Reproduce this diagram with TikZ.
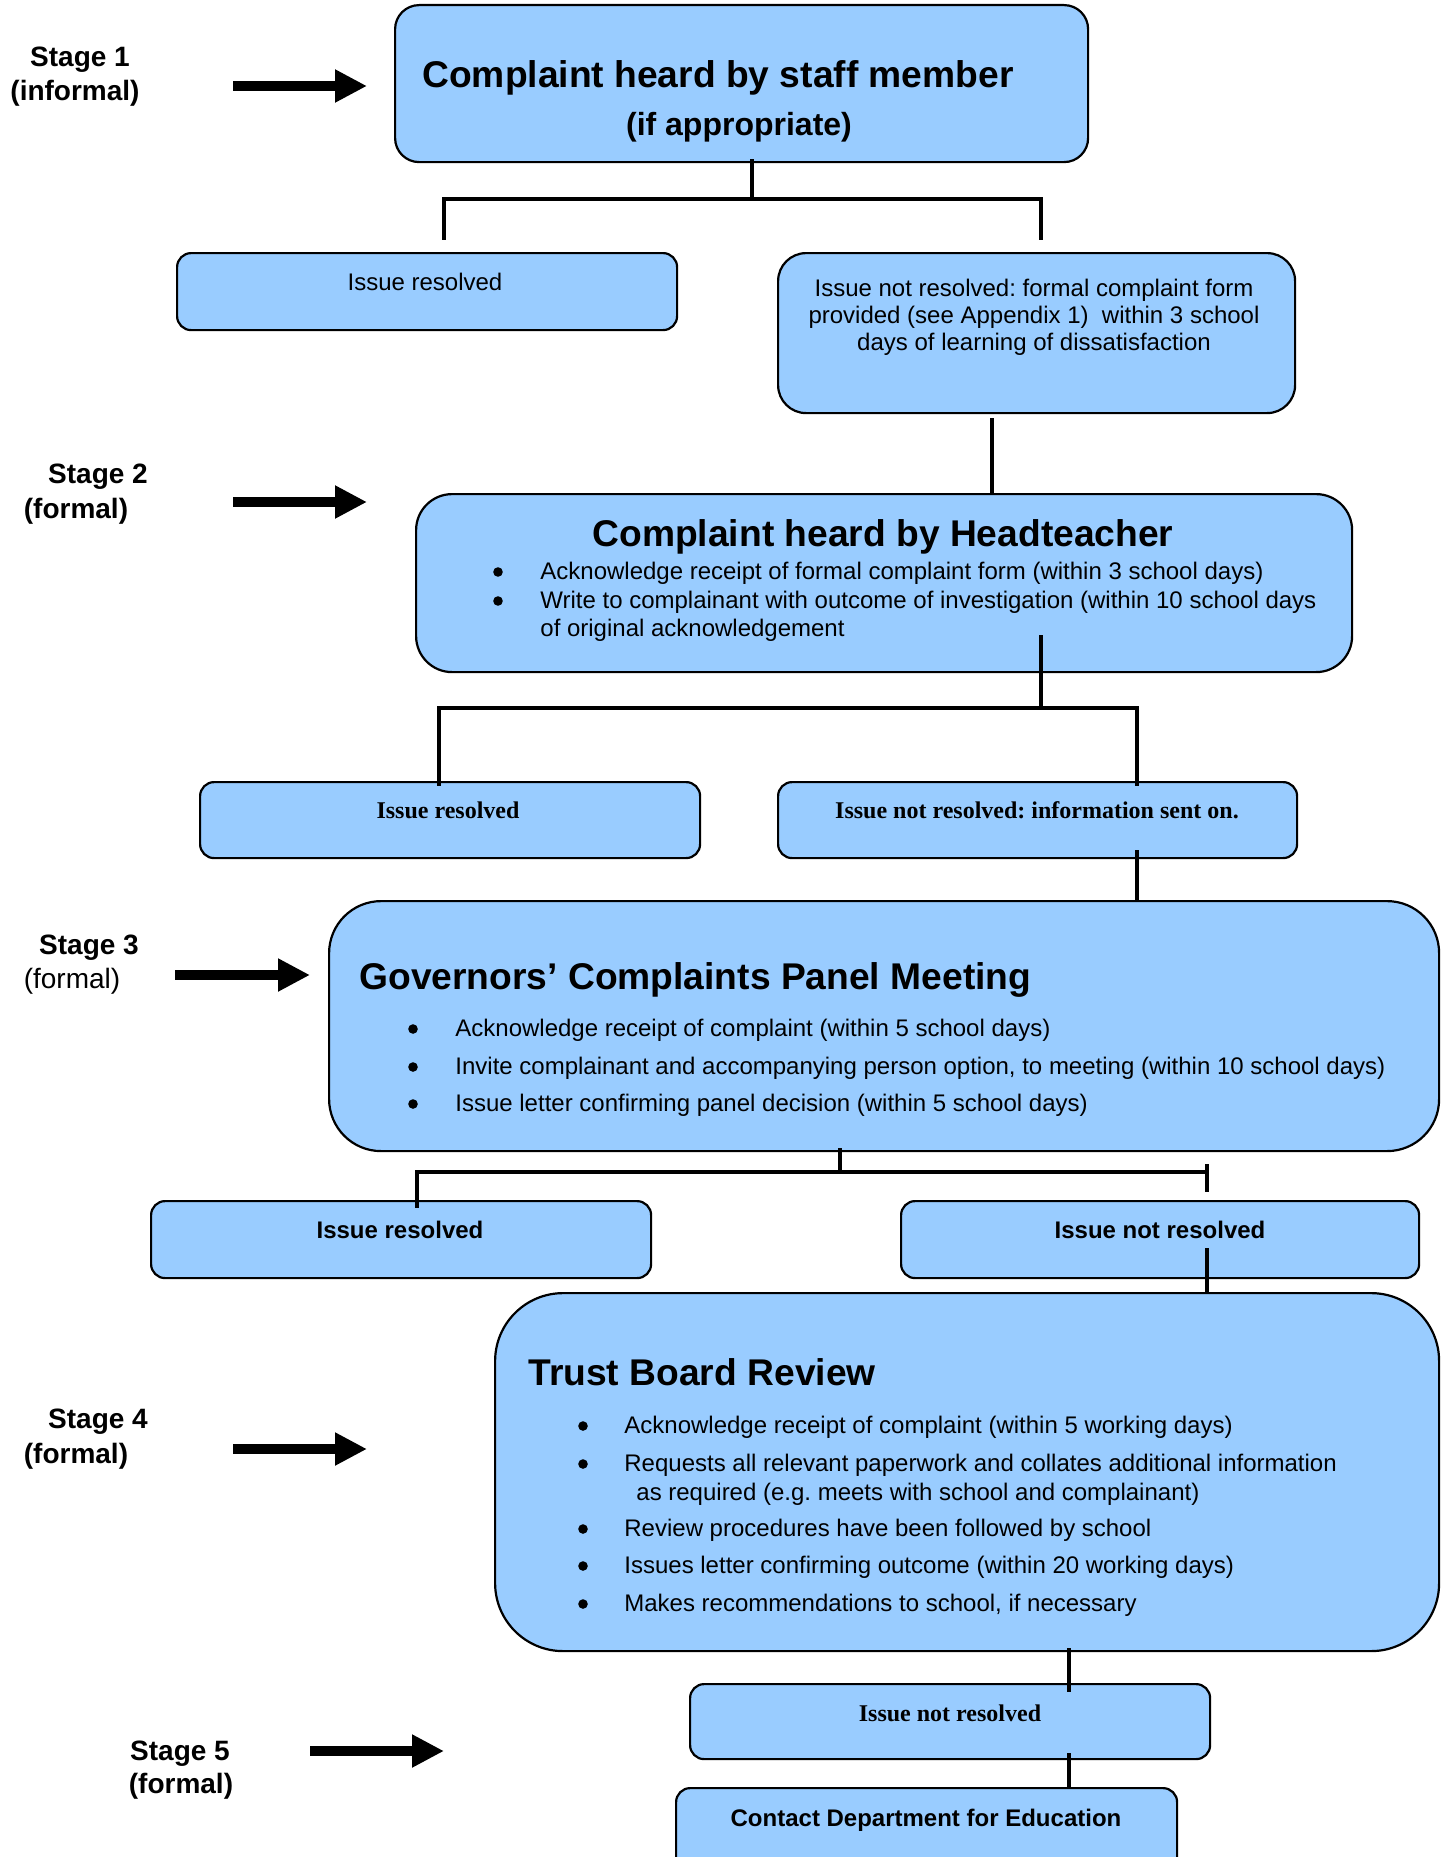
\documentclass[tikz,border=0pt]{standalone}
\usepackage{fontspec}
\setmainfont{Liberation Sans}
\newfontfamily\serifface{Liberation Serif}
\usetikzlibrary{arrows.meta}
\definecolor{boxblue}{RGB}{153,204,255}
\frenchspacing
\begin{document}
\begin{tikzpicture}[x=0.5pt,y=-0.5pt,
  box/.style={draw=black,line width=1.1pt,fill=boxblue,inner sep=0pt,anchor=north west},
  vline/.style={line width=1.6pt,line cap=rect},
  hbar/.style={line width=2.4pt},
  stagearrow/.style={line width=5pt,-{Triangle[length=16pt,width=15.5pt]}},
  ttl/.style={font=\fontsize{18.6}{22}\selectfont\bfseries,inner sep=0pt},
  sub/.style={font=\fontsize{16}{19}\selectfont\bfseries,inner sep=0pt},
  txt/.style={font=\fontsize{12}{14}\selectfont,inner sep=0pt},
  txtb/.style={font=\fontsize{12}{14}\selectfont\bfseries,inner sep=0pt},
  txts/.style={font=\fontsize{12}{14}\selectfont\serifface\bfseries,inner sep=0pt},
  stg/.style={font=\fontsize{14}{17}\selectfont\bfseries,inner sep=0pt,anchor=base},
  stgn/.style={font=\fontsize{14}{17}\selectfont,inner sep=0pt,anchor=base},
  bul/.style={circle,fill=black,inner sep=0pt,minimum size=4.8pt}
]
\useasboundingbox (0,0) rectangle (1444,1857);
\clip (0,0) rectangle (1444,1857);

% ---------- boxes ----------
\node[box,rounded corners=12pt,minimum width=346.5pt,minimum height=78.5pt] (b1) at (394,4) {};
\node[box,rounded corners=7pt,minimum width=250pt,minimum height=38.5pt] (r1) at (176,252) {};
\node[box,rounded corners=14pt,minimum width=258.5pt,minimum height=80pt] (n1) at (777,252) {};
\node[box,rounded corners=18pt,minimum width=468pt,minimum height=89pt] (b2) at (415,493) {};
\node[box,rounded corners=7pt,minimum width=250pt,minimum height=38pt] (r2) at (199,781) {};
\node[box,rounded corners=7pt,minimum width=259.5pt,minimum height=38pt] (n2) at (777,781) {};
\node[box,rounded corners=26pt,minimum width=555pt,minimum height=125pt] (b3) at (328,900) {};
\node[box,rounded corners=7pt,minimum width=250pt,minimum height=38.5pt] (r3) at (150,1200) {};
\node[box,rounded corners=7pt,minimum width=259pt,minimum height=38.5pt] (n3) at (900,1200) {};
\node[box,rounded corners=34pt,minimum width=472pt,minimum height=179pt] (b4) at (494,1292) {};
\node[box,rounded corners=7pt,minimum width=260pt,minimum height=37.5pt] (n4) at (689,1683) {};
\node[box,rounded corners=7pt,minimum width=250.5pt,minimum height=46.5pt] (b5) at (675,1787) {};

% ---------- connector points ----------
\coordinate (k1a) at (752,161);  \coordinate (k1b) at (752,199);
\coordinate (k1l) at (444,199);  \coordinate (k1r) at (1041,199);
\coordinate (k1ld) at (444,238); \coordinate (k1rd) at (1041,238);
\coordinate (k2a) at (992,420);  \coordinate (k2b) at (992,493);
\coordinate (k3a) at (1041,637); \coordinate (k3b) at (1041,708);
\coordinate (k3l) at (439,708);  \coordinate (k3r) at (1137,708);
\coordinate (k3ld) at (439,784); \coordinate (k3rd) at (1137,784);
\coordinate (k4a) at (1137,852); \coordinate (k4b) at (1137,900);
\coordinate (k5a) at (840,1150); \coordinate (k5b) at (840,1172);
\coordinate (k5l) at (417,1172); \coordinate (k5r) at (1207,1172);
\coordinate (k5ld) at (417,1206);
\coordinate (k5t1) at (1207,1166); \coordinate (k5t2) at (1207,1190);
\coordinate (k6a) at (1207,1250); \coordinate (k6b) at (1207,1292);
\coordinate (k7a) at (1069,1650); \coordinate (k7b) at (1069,1690);
\coordinate (k8a) at (1069,1755); \coordinate (k8b) at (1069,1787);

\draw[vline] (k1a) -- (k1b);
\draw[hbar] (k1l) -- (k1r);
\draw[vline] (k1l) -- (k1ld);
\draw[vline] (k1r) -- (k1rd);
\draw[vline] (k2a) -- (k2b);
\draw[vline] (k3a) -- (k3b);
\draw[hbar] (k3l) -- (k3r);
\draw[vline] (k3l) -- (k3ld);
\draw[vline] (k3r) -- (k3rd);
\draw[vline] (k4a) -- (k4b);
\draw[vline] (k5a) -- (k5b);
\draw[hbar] (k5l) -- (k5r);
\draw[vline] (k5l) -- (k5ld);
\draw[vline] (k5t1) -- (k5t2);
\draw[vline] (k6a) -- (k6b);
\draw[vline] (k7a) -- (k7b);
\draw[vline] (k8a) -- (k8b);

% ---------- stage arrows ----------
\coordinate (a1s) at (233,86);   \coordinate (a1e) at (367,86);
\coordinate (a2s) at (233,502);  \coordinate (a2e) at (367,502);
\coordinate (a3s) at (175,975);  \coordinate (a3e) at (310,975);
\coordinate (a4s) at (233,1449); \coordinate (a4e) at (367,1449);
\coordinate (a5s) at (310,1751); \coordinate (a5e) at (444,1751);
\draw[stagearrow] (a1s) -- (a1e);
\draw[stagearrow] (a2s) -- (a2e);
\draw[stagearrow] (a3s) -- (a3e);
\draw[stagearrow] (a4s) -- (a4e);
\draw[stagearrow] (a5s) -- (a5e);

% ---------- stage labels ----------
\node[stg] (s1) at (80,67) {Stage 1};
\node[stg] (s1b) at (75,101) {(informal)};
\node[stg] (s2) at (98,483) {Stage 2};
\node[stg] (s2b) at (76,518) {(formal)};
\node[stg] (s3) at (89,954) {Stage 3};
\node[stgn] (s3b) at (72,988) {(formal)};
\node[stg] (s4) at (98,1428) {Stage 4};
\node[stg] (s4b) at (76,1463) {(formal)};
\node[stg] (s5) at (180,1760) {Stage 5};
\node[stg] (s5b) at (181,1793) {(formal)};

% ---------- texts ----------
\node[ttl,anchor=base west] (t1a) at (422,88) {Complaint heard by staff member};
\node[sub,anchor=base] (t1b) at (739,135) {(if appropriate)};

\node[txt,anchor=base] (tr1) at (425,290) {Issue resolved};
\node[txt,anchor=base] (tn1a) at (1034,296) {Issue not resolved: formal complaint form};
\node[txt,anchor=base] (tn1b) at (1034,323) {provided (see Appendix 1)\ \ within 3 school};
\node[txt,anchor=base] (tn1c) at (1034,350) {days of learning of dissatisfaction};

\node[ttl,anchor=base] (t2) at (883,546) {Complaint heard by Headteacher};
\node[bul] (t2p1) at (498,572) {};
\node[bul] (t2p2) at (498,601) {};
\node[txt,anchor=base west] (t2l1) at (540,579) {Acknowledge receipt of formal complaint form (within 3 school days)};
\node[txt,anchor=base west] (t2l2) at (540,608) {Write to complainant with outcome of investigation (within 10 school days};
\node[txt,anchor=base west] (t2l3) at (540,636) {of original acknowledgement};

\node[txts,anchor=base] (tr2) at (448,818) {Issue resolved};
\node[txts,anchor=base] (tn2) at (1037,818) {Issue not resolved: information sent on.};

\node[ttl,anchor=base west] (t3) at (359,989) {Governors’ Complaints Panel Meeting};
\node[bul] (t3p1) at (413,1029) {};
\node[bul] (t3p2) at (413,1067) {};
\node[bul] (t3p3) at (413,1104) {};
\node[txt,anchor=base west] (t3l1) at (455,1036) {Acknowledge receipt of complaint (within 5 school days)};
\node[txt,anchor=base west] (t3l2) at (455,1074) {Invite complainant and accompanying person option, to meeting (within 10 school days)};
\node[txt,anchor=base west] (t3l3) at (455,1111) {Issue letter confirming panel decision (within 5 school days)};

\node[txtb,anchor=base] (tr3) at (400,1238) {Issue resolved};
\node[txtb,anchor=base] (tn3) at (1160,1238) {Issue not resolved};

\node[ttl,anchor=base west] (t4) at (528,1385) {Trust Board Review};
\node[bul] (t4p1) at (583,1426) {};
\node[bul] (t4p2) at (583,1464) {};
\node[bul] (t4p3) at (583,1529) {};
\node[bul] (t4p4) at (583,1566) {};
\node[bul] (t4p5) at (583,1604) {};
\node[txt,anchor=base west] (t4l1) at (624,1433) {Acknowledge receipt of complaint (within 5 working days)};
\node[txt,anchor=base west] (t4l2) at (624,1471) {Requests all relevant paperwork and collates additional information};
\node[txt,anchor=base west] (t4l2b) at (636,1500) {as required (e.g. meets with school and complainant)};
\node[txt,anchor=base west] (t4l3) at (624,1536) {Review procedures have been followed by school};
\node[txt,anchor=base west] (t4l4) at (624,1573) {Issues letter confirming outcome (within 20 working days)};
\node[txt,anchor=base west] (t4l5) at (624,1611) {Makes recommendations to school, if necessary};

\node[txts,anchor=base] (tn4) at (950,1721) {Issue not resolved};
\node[txtb,anchor=base] (t5) at (926,1826) {Contact Department for Education};
\end{tikzpicture}
\end{document}
